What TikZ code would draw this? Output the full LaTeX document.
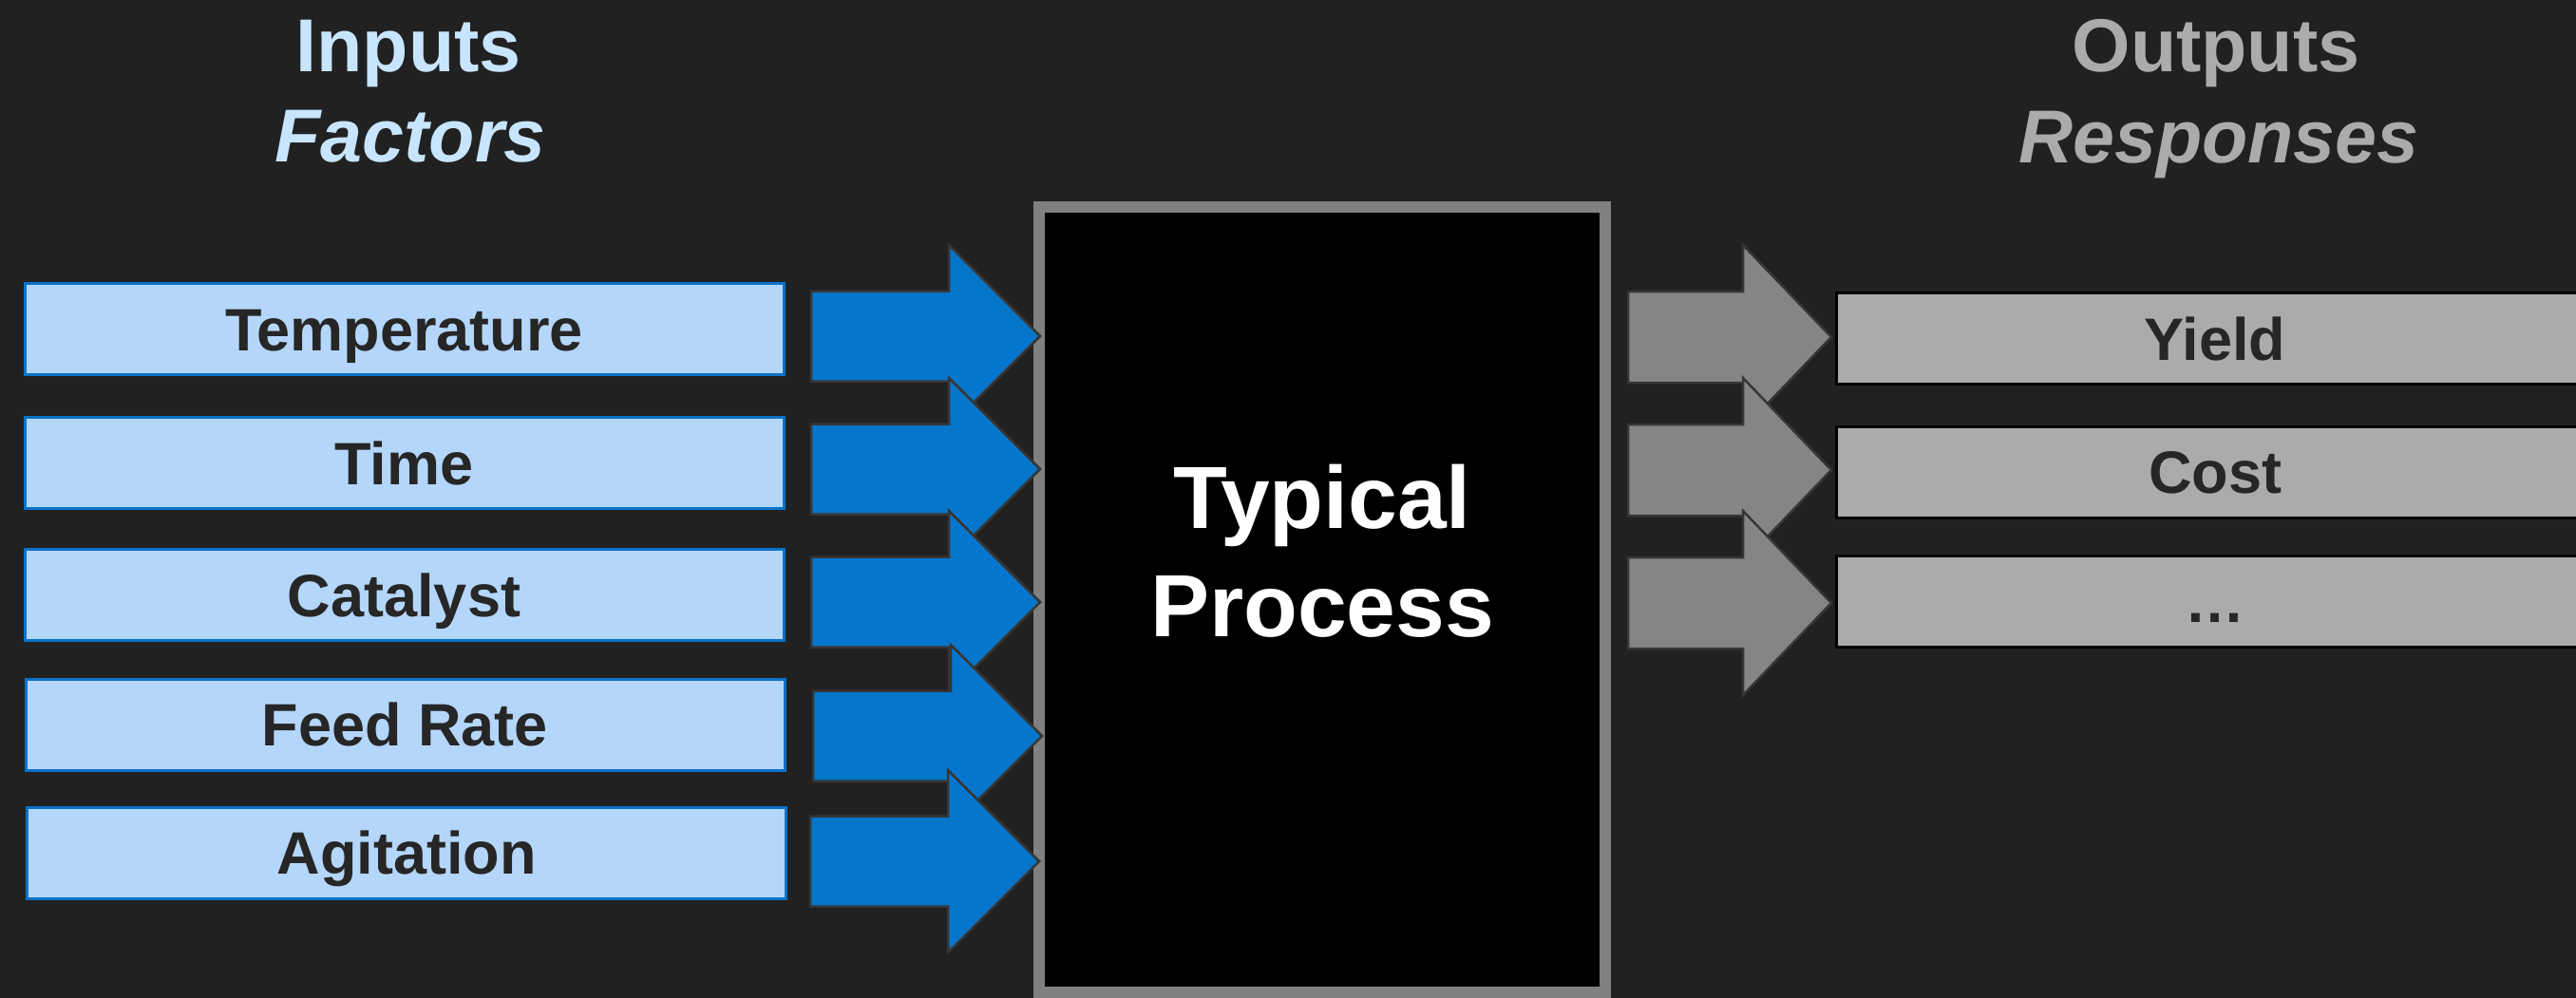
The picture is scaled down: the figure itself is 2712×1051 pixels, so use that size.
\documentclass[tikz,border=0pt]{standalone}
\usepackage{fontspec}
\setmainfont{Liberation Sans}
\definecolor{bgc}{HTML}{212121}
\definecolor{hdrin}{HTML}{C8E5FF}
\definecolor{hdrout}{HTML}{ABABAB}
\definecolor{infill}{HTML}{B4D6FA}
\definecolor{inborder}{HTML}{0A72C8}
\definecolor{itemtext}{HTML}{262626}
\definecolor{arrblue}{HTML}{0576CC}
\definecolor{arredge}{HTML}{363636}
\definecolor{procborder}{HTML}{808080}
\definecolor{arrgrey}{HTML}{858585}
\definecolor{outfill}{HTML}{ABABAB}
\begin{document}
\begin{tikzpicture}[x=1pt,y=-1pt,
  inbox/.style={draw=inborder, line width=3pt, fill=infill, minimum width=799pt, minimum height=96pt,
    inner sep=0pt, text=itemtext, font=\bfseries\fontsize{63}{70}\selectfont, text height=45pt, text depth=0pt},
  outbox/.style={draw=black, line width=3pt, fill=outfill, minimum width=798pt, minimum height=96pt,
    inner sep=0pt, text=itemtext, font=\bfseries\fontsize{63}{70}\selectfont, text height=45pt, text depth=0pt},
  procbox/.style={draw=procborder, line width=12pt, fill=black, minimum width=596pt, minimum height=827pt, inner sep=0pt},
  proctext/.style={text=white, font=\bfseries\fontsize{93}{110}\selectfont, inner sep=0pt, anchor=base},
  hdrstyle/.style={font=\bfseries\fontsize{79}{95}\selectfont, inner sep=0pt, anchor=base},
  barrow/.style={fill=arrblue, draw=arredge, line width=2.5pt, line join=miter},
  garrow/.style={fill=arrgrey, draw=arredge, line width=2.5pt, line join=miter}
]
\fill[bgc] (0,0) rectangle (2712,1051);
\useasboundingbox (0,0) rectangle (2712,1051);

% headers
\node[hdrstyle, text=hdrin] (hin1) at (430,76) {Inputs};
\node[hdrstyle, text=hdrin] (hin2) at (432,171) {\itshape Factors};
\node[hdrstyle, text=hdrout] (hout1) at (2333,76) {Outputs};
\node[hdrstyle, text=hdrout] (hout2) at (2336,172) {\itshape Responses};

% input boxes
\node[inbox] (temp) at (425.5,346.5) {Temperature};
\node[inbox] (time) at (425.5,487.5) {Time};
\node[inbox] (cat)  at (425.5,626.5) {Catalyst};
\node[inbox] (feed) at (426.5,763) {Feed Rate};
\node[inbox] (agit) at (428,898) {Agitation};

% process box
\node[procbox] (proc) at (1392,631.5) {};
\node[proctext] (pt1) at (1392,556) {Typical};
\node[proctext] (pt2) at (1392,670) {Process};

% blue arrows
\coordinate (a1) at (1095,354);
\coordinate (a2) at (1095,494);
\coordinate (a3) at (1095,634);
\coordinate (a4) at (1097,775);
\coordinate (a5) at (1094,907);
\foreach \t in {a1,a2,a3,a4,a5}{
  \draw[barrow] (\t) -- ++(-96,-96) -- ++(0,48.5) -- ++(-145,0) -- ++(0,95) -- ++(145,0) -- ++(0,48.5) -- cycle;
}

% output boxes
\node[outbox] (yield) at (2332,356.5) {Yield};
\node[outbox] (cost)  at (2332,497) {Cost};
\node[outbox] (more)  at (2332,633) {…};

% grey arrows
\coordinate (g1) at (1928,355);
\coordinate (g2) at (1928,495);
\coordinate (g3) at (1928,635);
\foreach \t in {g1,g2,g3}{
  \draw[garrow] (\t) -- ++(-93,-97) -- ++(0,49) -- ++(-121,0) -- ++(0,96) -- ++(121,0) -- ++(0,49) -- cycle;
}
\end{tikzpicture}
\end{document}
